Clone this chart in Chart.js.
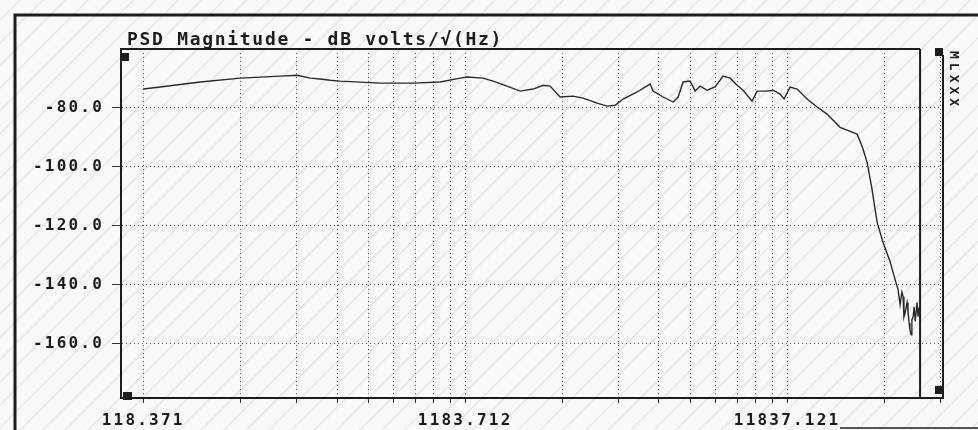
<!DOCTYPE html>
<html>
<head>
<meta charset="utf-8">
<title>PSD Magnitude</title>
<script src="https://cdn.jsdelivr.net/npm/chart.js@4.4.1/dist/chart.umd.min.js"></script>
<style>
    html, body { margin: 0; padding: 0; }
    body {
        width: 978px;
        height: 430px;
        overflow: hidden;
        background-color: #f9f9f9;
        background-image: repeating-linear-gradient(135deg, rgba(0,0,0,0) 0px, rgba(0,0,0,0) 13px, rgba(0,0,0,0.08) 14px, rgba(0,0,0,0) 16px);
    }
    canvas { display: block; }
</style>
</head>
<body>
<canvas id="psdChart" width="978" height="430"></canvas>
<script>
// Spectrum (Hz / dB volts per root Hz)
const freqHz = [118.4, 133.6, 178, 237, 315, 356, 391, 420, 451, 484, 645, 816, 990, 1142, 1201, 1346, 1446,
    1598, 1754, 1925, 2068, 2173, 2334, 2563, 2752, 3042, 3268, 3460, 3664, 4050, 4443, 4541, 4877, 5239, 5430,
    5626, 5916, 6132, 6356, 6682, 7074, 7489, 7875, 8279, 8642, 9217, 9552, 10263, 10710, 11261, 11586, 12090,
    12715, 13658, 14669, 15756, 17294, 19530, 20240, 20980, 21735, 21900, 22540, 23520, 24730, 25630, 26180,
    26560, 26900, 27140, 27300, 27530, 27920, 28100, 28330, 28500, 28740, 28900, 29150, 29360, 29600, 29800,
    29990, 30200, 30420];
const psdDb = [-73.6, -72.9, -71.2, -69.9, -69.2, -68.9, -69.9, -70.2, -70.6, -70.9, -71.6, -71.6, -71.2, -69.9,
    -69.5, -69.9, -70.9, -72.6, -74.3, -73.6, -72.3, -72.6, -76.3, -76.0, -76.7, -78.4, -79.4, -79.1, -77.0,
    -74.6, -71.9, -74.3, -76.3, -78.0, -76.3, -71.2, -70.9, -74.3, -72.6, -74.0, -72.9, -69.2, -69.9, -72.3,
    -74.0, -77.7, -74.3, -74.3, -74.0, -75.3, -77.0, -72.9, -73.6, -77.0, -79.7, -82.1, -86.6, -88.9, -93.0,
    -98.5, -107.7, -110.1, -118.9, -125.7, -132.2, -138.3, -141.7, -146.8, -142.5, -144.1, -151.0, -149.5,
    -146.1, -149.0, -153.0, -155.5, -157.0, -152.0, -150.9, -147.5, -152.5, -149.0, -146.1, -150.9, -147.8];

const xTickValues = [118.371, 1183.712, 11837.121];
const xTickLabels = ['118.371', '1183.712', '11837.121'];
const yTickValues = [-160, -140, -120, -100, -80];
const yTickLabels = ['-160.0', '-140.0', '-120.0', '-100.0', '-80.0'];
const cursorHz = 30640;

const titleText = 'PSD Magnitude - dB volts/\u221A(Hz)';
const sideText = 'MLXXX';

const ink = '#1c1c1c';
const monoFont = '"DejaVu Sans Mono", monospace';

// old analyser screen: frame, box, cursor, corner markers, title
const screenFrame = {
    id: 'screenFrame',
    beforeDraw(chart) {
        chart.ctx.letterSpacing = '2.2px';
    },
    afterDraw(chart) {
        const ctx = chart.ctx;
        const a = chart.chartArea;
        const cx = chart.scales.x.getPixelForValue(cursorHz);

        ctx.save();
        ctx.strokeStyle = ink;
        ctx.fillStyle = ink;

        // outer screen frame
        ctx.lineWidth = 3;
        ctx.beginPath();
        ctx.moveTo(15, 430);
        ctx.lineTo(15, 15);
        ctx.lineTo(978, 15);
        ctx.stroke();
        ctx.lineWidth = 2;
        ctx.strokeStyle = '#555';
        ctx.beginPath();
        ctx.moveTo(840, 428);
        ctx.lineTo(978, 428);
        ctx.stroke();

        // plot box top + right, cursor line
        ctx.strokeStyle = ink;
        ctx.lineWidth = 2;
        ctx.beginPath();
        ctx.moveTo(a.left, a.top);
        ctx.lineTo(cx, a.top);
        ctx.stroke();
        ctx.beginPath();
        ctx.moveTo(a.right, a.top + 6);
        ctx.lineTo(a.right, a.bottom);
        ctx.stroke();
        ctx.beginPath();
        ctx.moveTo(cx, a.top);
        ctx.lineTo(cx, a.bottom);
        ctx.lineTo(a.right, a.bottom);
        ctx.stroke();

        // corner markers
        ctx.fillRect(a.left + 1, a.top + 4, 7, 8);
        ctx.fillRect(a.left + 2, a.bottom - 6, 9, 8);
        ctx.fillRect(a.right - 8, a.top - 1, 8, 8);
        ctx.fillRect(a.right - 8, a.bottom - 12, 8, 8);

        // title
        ctx.font = 'bold 18px ' + monoFont;
        ctx.letterSpacing = '1.7px';
        ctx.textAlign = 'left';
        ctx.textBaseline = 'alphabetic';
        ctx.fillText(titleText, a.left + 6, 45);

        // vertical side label
        ctx.font = 'bold 13px ' + monoFont;
        ctx.letterSpacing = '4px';
        ctx.translate(a.right + 7, a.top + 2);
        ctx.rotate(Math.PI / 2);
        ctx.fillText(sideText, 0, 0);
        ctx.restore();
    }
};

new Chart(document.getElementById('psdChart'), {
    type: 'line',
    data: {
        datasets: [{
            label: 'PSD Magnitude',
            data: freqHz.map((f, i) => ({ x: f, y: psdDb[i] })),
            borderColor: '#2a2a2a',
            borderWidth: 1.4,
            pointRadius: 0,
            tension: 0,
            fill: false
        }]
    },
    options: {
        responsive: false,
        animation: false,
        layout: {
            padding: { left: 0, top: 49, right: 35, bottom: 0 }
        },
        plugins: {
            legend: { display: false },
            tooltip: { enabled: false },
            title: { display: false }
        },
        scales: {
            x: {
                type: 'logarithmic',
                min: 101,
                max: 36100,
                afterFit: function(scale) {
                    scale.height = 32;
                },
                afterBuildTicks: function(scale) {
                    const ticks = [];
                    xTickValues.forEach(base => {
                        for (let k = 1; k <= 9; k++) {
                            const v = base * k;
                            if (v >= scale.min && v <= scale.max) {
                                ticks.push({ value: v });
                            }
                        }
                    });
                    scale.ticks = ticks;
                },
                grid: {
                    color: '#5a5a5a',
                    lineWidth: 1,
                    tickLength: 5,
                    tickColor: '#333',
                    tickBorderDash: []
                },
                border: {
                    display: true,
                    color: ink,
                    width: 2,
                    dash: [1, 3]
                },
                ticks: {
                    autoSkip: false,
                    maxRotation: 0,
                    padding: 8,
                    color: ink,
                    font: { family: monoFont, size: 16, weight: 'bold' },
                    callback: function(value) {
                        const idx = xTickValues.indexOf(value);
                        return idx >= 0 ? xTickLabels[idx] : '';
                    }
                }
            },
            y: {
                type: 'linear',
                min: -178.5,
                max: -60,
                afterFit: function(scale) {
                    scale.width = 121;
                },
                afterBuildTicks: function(scale) {
                    scale.ticks = yTickValues.map(v => ({ value: v }));
                },
                grid: {
                    color: '#5a5a5a',
                    lineWidth: 1,
                    tickLength: 9,
                    tickColor: '#333',
                    tickBorderDash: []
                },
                border: {
                    display: true,
                    color: ink,
                    width: 2,
                    dash: [1, 3]
                },
                ticks: {
                    padding: 8,
                    color: ink,
                    font: { family: monoFont, size: 16, weight: 'bold' },
                    callback: function(value) {
                        const idx = yTickValues.indexOf(value);
                        return idx >= 0 ? yTickLabels[idx] : '';
                    }
                }
            }
        }
    },
    plugins: [screenFrame]
});
</script>
</body>
</html>
